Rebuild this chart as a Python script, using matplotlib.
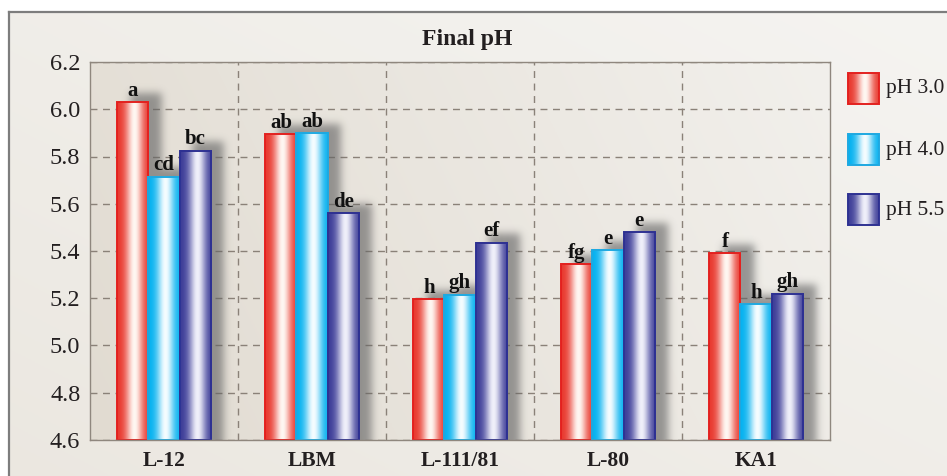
import numpy as np
import matplotlib
matplotlib.use('Agg')
import matplotlib.pyplot as plt
from matplotlib.patches import Rectangle
from matplotlib.colors import to_rgb

# ---------------- data ----------------
categories = ['L-12', 'LBM', 'L-111/81', 'L-80', 'KA1']
series_names = ['pH 3.0', 'pH 4.0', 'pH 5.5']
ph30 = [6.03, 5.895, 5.195, 5.345, 5.39]
ph40 = [5.715, 5.90, 5.215, 5.405, 5.175]
ph55 = [5.825, 5.56, 5.435, 5.48, 5.22]
letters30 = ['a', 'ab', 'h', 'fg', 'f']
letters40 = ['cd', 'ab', 'gh', 'e', 'h']
letters55 = ['bc', 'de', 'ef', 'e', 'gh']
yticks = [4.6, 4.8, 5.0, 5.2, 5.4, 5.6, 5.8, 6.0, 6.2]
title = 'Final pH'

# ---------------- style ----------------
plt.rcParams['font.family'] = ['Liberation Serif', 'DejaVu Serif']
TXT = '#231f20'
edge_cols = ['#e3211f', '#1ea9e1', '#2e3192']
base_cols = [(0.91, 0.21, 0.17), (0.0, 0.69, 0.94), (0.23, 0.23, 0.59)]
hi_cols = [(1.0, 0.97, 0.95), (0.96, 0.99, 1.0), (0.94, 0.94, 0.98)]


def gradient(base, hi, n=96):
    t = np.linspace(0, 1, n)
    w = np.exp(-((t - 0.55) / 0.27) ** 2)
    b = np.array(base)
    h = np.array(hi)
    return b[None, :] * (1 - w[:, None]) + h[None, :] * w[:, None]


def blur(a, s):
    r = int(3 * s)
    k = np.exp(-0.5 * (np.arange(-r, r + 1) / s) ** 2)
    k /= k.sum()
    p = np.pad(a, r, mode='edge')
    p = np.apply_along_axis(lambda m: np.convolve(m, k, mode='valid'), 1, p)
    p = np.apply_along_axis(lambda m: np.convolve(m, k, mode='valid'), 0, p)
    return p


W, H = 947, 476
fig = plt.figure(figsize=(W / 100, H / 100), dpi=100, facecolor='white')

# ---------------- outer background panel ----------------
bgax = fig.add_axes([9 / W, -0.05, 1.0, (H - 12) / H + 0.05])
bgax.set_zorder(-1)
gy, gx = np.mgrid[0:1:200j, 0:1:300j]
tt = (gx + gy) / 2.0
c1 = np.array(to_rgb('#ebe7e0'))
c2 = np.array(to_rgb('#f5f4f1'))
img = c1[None, None, :] * (1 - tt[..., None]) + c2[None, None, :] * tt[..., None]
bgax.imshow(img[::-1], extent=(0, 1, 0, 1), aspect='auto', origin='upper')
bgax.set_xlim(0, 1)
bgax.set_ylim(0, 1)
bgax.set_xticks([])
bgax.set_yticks([])
for s in ['right', 'bottom']:
    bgax.spines[s].set_visible(False)
for s in ['top', 'left']:
    bgax.spines[s].set_color('#7d7d7d')
    bgax.spines[s].set_linewidth(1.6)

# ---------------- main axes ----------------
ax = fig.add_axes([90 / W, 36 / H, 740 / W, 378 / H])
xmin, xmax, ymin, ymax = -0.5, len(categories) - 0.5, yticks[0], yticks[-1]

# plot background gradient
p1 = np.array(to_rgb('#e1dbd1'))
p2 = np.array(to_rgb('#f2f0ec'))
gy, gx = np.mgrid[0:1:200j, 0:1:400j]
tt = np.clip(gx * 0.8 + (1 - gy) * 0.2, 0, 1)
pimg = p1[None, None, :] * (1 - tt[..., None]) + p2[None, None, :] * tt[..., None]
ax.imshow(pimg, extent=(xmin, xmax, ymin, ymax), aspect='auto', origin='upper', zorder=0)

series = [ph30, ph40, ph55]
lets = [letters30, letters40, letters55]
bw = 0.21
x = np.arange(len(categories))

# shadows
SW, SH = 740 * 2, 378 * 2
mask = np.zeros((SH, SW))
dx = 13 / 148.0
dy = 9 / (378 / (ymax - ymin))
for j, vals in enumerate(series):
    for i, v in enumerate(vals):
        xc = x[i] + (j - 1) * bw
        x0 = xc - bw / 2 + dx
        x1 = xc + bw / 2 + dx
        c0 = int(round((x0 - xmin) / (xmax - xmin) * SW))
        c1_ = int(round((x1 - xmin) / (xmax - xmin) * SW))
        rt = int(round((ymax - (v + dy)) / (ymax - ymin) * SH))
        mask[max(rt, 0):, c0:c1_] = 1.0
mask = blur(mask, 8)
shadow = np.zeros((SH, SW, 4))
shadow[..., :3] = 0.40
shadow[..., 3] = mask * 0.65
ax.imshow(shadow, extent=(xmin, xmax, ymin, ymax), aspect='auto', origin='upper', zorder=1)

# bars
for j, vals in enumerate(series):
    g = gradient(base_cols[j], hi_cols[j])[None, :, :]
    xs = x + (j - 1) * bw
    for i, v in enumerate(vals):
        ax.imshow(g, extent=(xs[i] - bw / 2, xs[i] + bw / 2, ymin, v),
                  aspect='auto', zorder=2, interpolation='bilinear')
    ax.bar(xs, np.array(vals) - ymin, bottom=ymin, width=bw, facecolor='none',
           edgecolor=edge_cols[j], linewidth=1.4, zorder=3)
    for i, v in enumerate(vals):
        ax.annotate(lets[j][i], (xs[i], v), xytext=(0, 4.5), textcoords='offset points',
                    ha='center', va='baseline', fontsize=15, fontweight='bold',
                    color='#111111', zorder=4)

ax.set_xlim(xmin, xmax)
ax.set_ylim(ymin, ymax)
ax.set_yticks(yticks)
ax.set_yticklabels([f'{t:.1f}' for t in yticks], fontsize=17.5)
ax.set_xticks(x)
ax.set_xticklabels(categories, fontweight='bold', fontsize=15.5)
ax.set_xticks(np.arange(0.5, len(categories) - 0.5, 1.0), minor=True)
ax.set_axisbelow(True)
grid_kw = dict(color='#8a8178', linewidth=1.0, linestyle=(0, (5, 4)))
ax.grid(axis='y', which='major', **grid_kw)
ax.grid(axis='x', which='minor', **grid_kw)
ax.grid(axis='x', which='major', visible=False)
ax.tick_params(axis='both', which='both', length=0, colors=TXT)
ax.tick_params(axis='y', pad=7)
ax.tick_params(axis='x', pad=8)
for s in ax.spines.values():
    s.set_color('#8f877e')
    s.set_linewidth(1.0)
    s.set_zorder(5)

fig.text(467 / W, 1 - 40 / H, title, ha='center', va='center', fontsize=17,
         fontweight='bold', color=TXT)

# ---------------- legend ----------------
lax = fig.add_axes([0, 0, 1, 1])
lax.set_zorder(2)
lax.set_xlim(0, W)
lax.set_ylim(H, 0)
lax.axis('off')
box_tops = [73, 134, 194]
for j, name in enumerate(series_names):
    y0 = box_tops[j]
    g = gradient(base_cols[j], hi_cols[j])[None, :, :]
    lax.imshow(g, extent=(848, 879, y0 + 31, y0), aspect='auto', interpolation='bilinear')
    lax.add_patch(Rectangle((848, y0), 31, 31, facecolor='none',
                            edgecolor=edge_cols[j], linewidth=1.4))
    lax.text(886, y0 + 16, name, ha='left', va='center', fontsize=15.5, color=TXT)
lax.set_xlim(0, W)
lax.set_ylim(H, 0)

fig.savefig('out.png', dpi=100, facecolor=fig.get_facecolor())
